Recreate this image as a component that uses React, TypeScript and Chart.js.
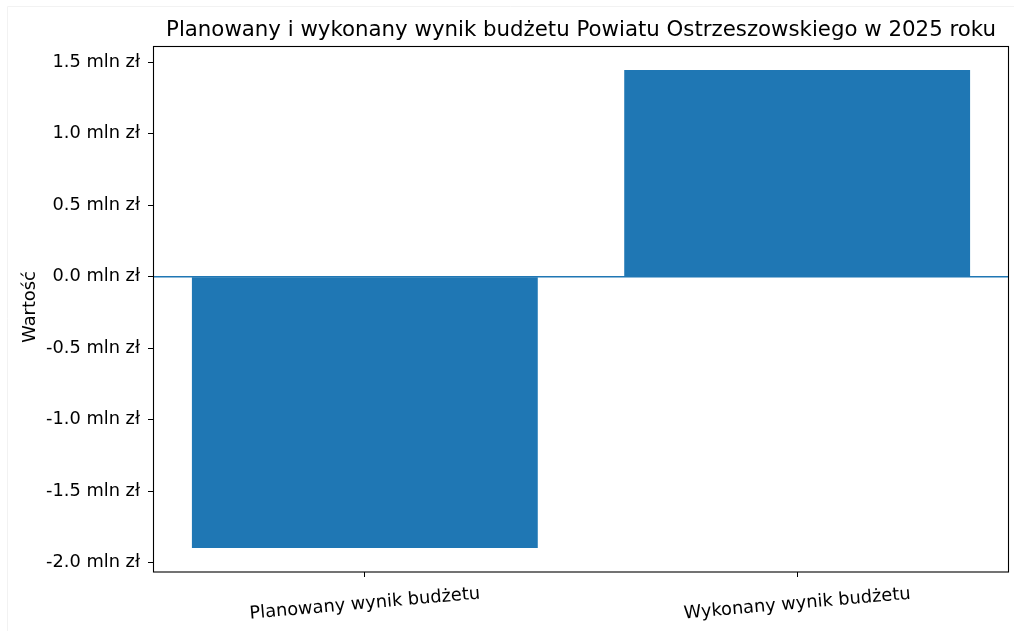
import React, { useEffect, useRef } from "react";
import { Chart, registerables } from "chart.js";

Chart.register(...registerables);

const chartTitle = "Planowany i wykonany wynik budżetu Powiatu Ostrzeszowskiego w 2025 roku";
const yAxisLabel = "Wartość";
const categories = ["Planowany wynik budżetu", "Wykonany wynik budżetu"];
const categoryPositions = [0, 1];
const budgetValues = [-1.896, 1.446]; // mln zł
const yTickValues = [-2.0, -1.5, -1.0, -0.5, 0.0, 0.5, 1.0, 1.5];
const zeroLineValue = 0;

const W = 1014;
const H = 631;
const FONT = "'DejaVu Sans', sans-serif";

export default function App() {
  const ref = useRef<HTMLCanvasElement | null>(null);

  useEffect(() => {
    const canvas = ref.current;
    if (!canvas) return;

    const decor = {
      id: "decor",
      afterDatasetsDraw(chart: any) {
        const { ctx, chartArea } = chart;
        const y = chart.scales.y.getPixelForValue(zeroLineValue);
        ctx.save();
        ctx.strokeStyle = "#1f77b4";
        ctx.lineWidth = 1.4;
        ctx.beginPath();
        ctx.moveTo(chartArea.left, y);
        ctx.lineTo(chartArea.right, y);
        ctx.stroke();
        ctx.strokeStyle = "#000";
        ctx.lineWidth = 1.1;
        ctx.strokeRect(
          Math.round(chartArea.left) + 0.5,
          Math.round(chartArea.top) + 0.5,
          Math.round(chartArea.right - chartArea.left) - 1,
          Math.round(chartArea.bottom - chartArea.top) - 0.5
        );
        ctx.restore();
      },
      afterDraw(chart: any) {
        const { ctx, chartArea } = chart;
        const xs = chart.scales.x;
        ctx.save();
        // faint frame
        ctx.strokeStyle = "#f2f2f2";
        ctx.lineWidth = 1;
        ctx.beginPath();
        ctx.moveTo(7.5, 631);
        ctx.lineTo(7.5, 6.5);
        ctx.lineTo(1014, 6.5);
        ctx.stroke();
        // title
        ctx.fillStyle = "#000";
        ctx.font = `21.3px ${FONT}`;
        ctx.textAlign = "center";
        ctx.textBaseline = "middle";
        ctx.fillText(chartTitle, (chartArea.left + chartArea.right) / 2, 30);
        // y label
        ctx.font = `17.8px ${FONT}`;
        ctx.save();
        ctx.translate(30, (chartArea.top + chartArea.bottom) / 2 - 2);
        ctx.rotate(-Math.PI / 2);
        ctx.fillText(yAxisLabel, 0, 0);
        ctx.restore();
        // x labels
        categoryPositions.forEach((p, i) => {
          const x = xs.getPixelForValue(p);
          ctx.save();
          ctx.translate(x, 604);
          ctx.rotate((-5 * Math.PI) / 180);
          ctx.fillText(categories[i], 0, 0);
          ctx.restore();
        });
        ctx.restore();
      },
    };

    const chart = new Chart(canvas, {
      type: "bar",
      data: {
        datasets: [
          {
            data: categoryPositions.map((x, i) => ({ x, y: budgetValues[i] })),
            backgroundColor: "#1f77b4",
            borderWidth: 0,
            barPercentage: 0.8,
            categoryPercentage: 1,
          },
        ],
      },
      options: {
        responsive: false,
        animation: false,
        devicePixelRatio: 1,
        layout: { padding: { top: 46, right: 5, left: 0, bottom: 0 } },
        plugins: {
          legend: { display: false },
          tooltip: { enabled: false },
          title: { display: false },
        },
        scales: {
          x: {
            type: "linear",
            offset: false,
            min: -0.49,
            max: 1.49,
            afterBuildTicks: (s: any) => {
              s.ticks = categoryPositions.map((v) => ({ value: v }));
            },
            afterFit: (s: any) => {
              s.height = 59;
            },
            ticks: { display: false },
            grid: {
              display: true,
              offset: false,
              drawOnChartArea: false,
              drawTicks: true,
              tickLength: 5,
              tickColor: "#000",
              tickWidth: 1,
              color: "#000",
            },
            border: { display: false },
          },
          y: {
            type: "linear",
            min: -2.064,
            max: 1.613,
            afterBuildTicks: (s: any) => {
              s.ticks = yTickValues.map((v) => ({ value: v }));
            },
            afterFit: (s: any) => {
              s.width = 153;
            },
            ticks: {
              callback: (v: any) => `${Number(v).toFixed(1)} mln zł`,
              color: "#000",
              font: { family: FONT, size: 17.8 },
              padding: 8,
            },
            grid: {
              display: true,
              drawOnChartArea: false,
              drawTicks: true,
              tickLength: 5,
              tickColor: "#000",
              tickWidth: 1,
              color: "#000",
            },
            border: { display: false },
          },
        },
      },
      plugins: [decor],
    } as any);

    return () => chart.destroy();
  }, []);

  return (
    <div style={{ position: "absolute", left: 0, top: 0, width: W, height: H, background: "#fff" }}>
      <canvas ref={ref} width={W} height={H} style={{ width: W, height: H, display: "block" }} />
    </div>
  );
}
